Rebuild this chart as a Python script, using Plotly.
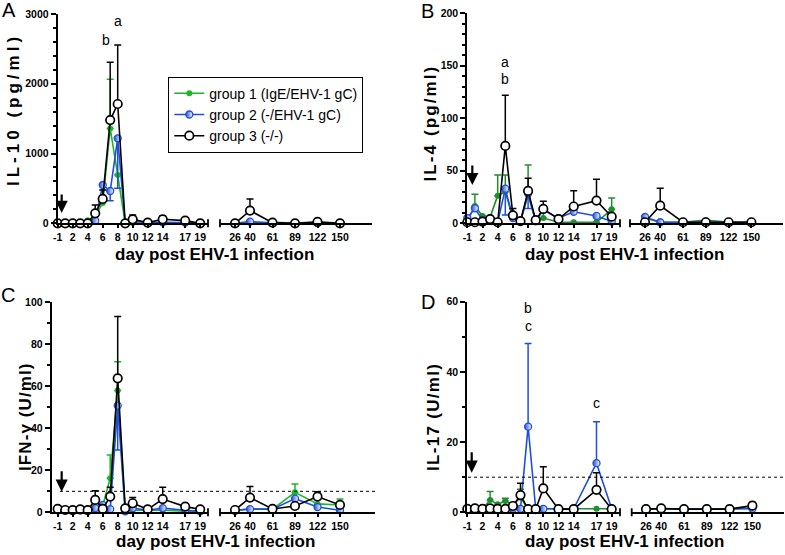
import plotly.graph_objects as go

W, H = 785, 555
FONT = "Liberation Sans, Arial, sans-serif"

# ---------------- axis categories ----------------
EARLY_DAYS = [-1, 1, 2, 3, 4, 5, 6, 7, 8, 9, 10, 12, 14, 17, 19]
LATE_DAYS = [26, 40, 61, 89, 122, 150]
EARLY_TICKS = [-1, 2, 4, 6, 8, 10, 12, 14, 17, 19]
LATE_TICKS = [26, 40, 61, 89, 122, 150]
LATE_SLOTS = [0, 2, 5, 8, 11, 14]          # slot of each late day on the broken axis

GROUP_NAMES = ["group 1 (IgE/EHV-1 gC)", "group 2 (-/EHV-1 gC)", "group 3 (-/-)"]

# ---------------- A: IL-10 (pg/ml) ----------------
IL10_G1_EARLY = [0, 0, 0, 0, 45, 100, 290, 1360, 692, 0, 5, 5, 5, 5, 0]
IL10_G1_EARLY_UP = [0, 0, 0, 0, 0, 0, 0, 703, 0, 0, 0, 0, 0, 0, 0]
IL10_G2_EARLY = [0, 0, 0, 0, 0, 38, 549, 463, 1218, 0, 30, 10, 15, 10, 0]
IL10_G2_EARLY_DOWN = [0, 0, 0, 0, 0, 0, 0, 138, 717, 0, 0, 0, 0, 0, 0]
IL10_G3_EARLY = [0, 0, 0, 0, 0, 143, 349, 1480, 1710, 0, 57, 10, 57, 38, 0]
IL10_G3_EARLY_UP = [0, 0, 0, 0, 0, 120, 129, 827, 845, 0, 63, 0, 48, 10, 0]
IL10_G1_LATE = [0, 10, 15, 5, 5, 0]
IL10_G2_LATE = [0, 24, 5, 0, 5, 0]
IL10_G3_LATE = [0, 182, 10, 0, 20, 0]
IL10_G3_LATE_UP = [0, 167, 0, 0, 0, 0]

# ---------------- B: IL-4 (pg/ml) ----------------
IL4_G1_EARLY = [2, 16.5, 7, 6, 26.3, 30, 5, 2, 27, 2, 5, 1, 1, 1, 13.3]
IL4_G1_EARLY_UP = [0, 11.1, 0, 0, 19.7, 16, 0, 0, 28.5, 0, 10, 0, 0, 0, 10.7]
IL4_G2_EARLY = [5, 14.3, 3, 3, 1, 33, 5, 2, 28.6, 2, 12.7, 5, 11, 7, 1.6]
IL4_G2_EARLY_DOWN = [0, 0, 0, 0, 0, 25, 0, 0, 14.6, 0, 0, 0, 0, 0, 0]
IL4_G3_EARLY = [1, 1, 1.6, 4, 1, 73.7, 7.6, 2, 30.8, 3, 13.7, 4, 16, 21.6, 6.3]
IL4_G3_EARLY_UP = [0, 0, 0, 0, 0, 48.3, 6.4, 0, 12.2, 0, 7.3, 0, 15, 20.4, 0]
IL4_G1_LATE = [5, 1, 1, 3, 1, 1]
IL4_G2_LATE = [6, 1, 1, 1, 1, 1]
IL4_G3_LATE = [1, 16.8, 1, 1, 1, 1]
IL4_G3_LATE_UP = [0, 16.5, 0, 0, 0, 0]

# ---------------- C: IFN-gamma (U/ml) ----------------
IFN_G1_EARLY = [1, 1, 1, 1, 1, 1.5, 3, 16.2, 58, 0.5, 1, 1, 1, 0.5, 0.5]
IFN_G1_EARLY_UP = [0, 0, 0, 0, 0, 0, 0, 11.1, 13.7, 0, 0, 0, 0, 0, 0]
IFN_G2_EARLY = [1, 1, 1, 1, 1, 2, 3.5, 1.5, 50.8, 0.5, 2, 1, 2, 1, 0.5]
IFN_G2_EARLY_DOWN = [0, 0, 0, 0, 0, 0, 0, 0, 21.1, 0, 0, 0, 0, 0, 0]
IFN_G3_EARLY = [1.6, 1.1, 1, 1.4, 1, 5.9, 1.6, 7.5, 63.8, 1.9, 4.3, 1.4, 6.3, 2.7, 1.4]
IFN_G3_EARLY_UP = [0, 0, 0, 0, 0, 4.4, 0, 4.4, 29.4, 0, 2.8, 0, 5.6, 0.8, 0]
IFN_G1_LATE = [1, 1.5, 1.5, 9.5, 4, 3.5]
IFN_G1_LATE_UP = [0, 0, 0, 4, 0, 2.8]
IFN_G2_LATE = [1, 1.5, 1.5, 6.5, 2.5, 1]
IFN_G3_LATE = [1.1, 7, 1.6, 3, 7.5, 3.5]
IFN_G3_LATE_UP = [0, 5.3, 0, 0, 2.3, 0]

# ---------------- D: IL-17 (U/ml) ----------------
IL17_G1_EARLY = [1, 1, 1, 3.5, 2.3, 3.2, 2, 4.2, 1, 1, 1, 1, 1, 1, 1]
IL17_G1_EARLY_UP = [0, 0, 0, 2.4, 0, 0.8, 0, 2.4, 0, 0, 0, 0, 0, 0, 0]
IL17_G2_EARLY = [1, 1, 1, 1, 1, 1, 1, 1, 24.4, 1, 1, 1, 1, 14, 1]
IL17_G2_EARLY_UP = [0, 0, 0, 0, 0, 0, 0, 0, 23.7, 0, 0, 0, 0, 11.8, 0]
IL17_G3_EARLY = [0.95, 1.1, 1, 1.1, 0.95, 1, 1.8, 4.9, 0.9, 0.9, 6.8, 0.9, 0.9, 6.4, 0.9]
IL17_G3_EARLY_UP = [0, 0, 0, 0, 0, 0, 0, 3.4, 0, 0, 6.2, 0, 0, 4.9, 0]
IL17_G1_LATE = [0.9, 1, 0.9, 0.9, 1, 1.2]
IL17_G2_LATE = [0.9, 1, 0.9, 0.9, 1, 1]
IL17_G3_LATE = [0.9, 1.1, 0.9, 0.9, 0.9, 1.9]
IL17_G3_LATE_UP = [0, 0, 0, 0, 0, 0.9]

DETECTION_LIMIT = 10   # dotted line for IFN-gamma and IL-17

# significance letters: (panel, early day, value level, text)
SIG_LETTERS = [
    (0, 8, 2900, "a"), (0, 6.5, 2627, "b"),
    (1, 5, 153.6, "a"), (1, 5, 137.4, "b"),
    (3, 8, 58.2, "b"), (3, 8, 53.1, "c"), (3, 17, 31.1, "c"),
]

GREEN_BRIGHT = "#1cb52a"
GREEN_DARK = "#1f8f2c"
BLUE = "#1f4fd8"
BLACK = "#000000"

PANELS = [
    dict(letter="A", ytitle="IL-10 (pg/ml)", spacing=4.0, ymax=3000, dtick=1000, minor=200,
         green=GREEN_BRIGHT,
         early=[(IL10_G1_EARLY, IL10_G1_EARLY_UP, None), (IL10_G2_EARLY, None, IL10_G2_EARLY_DOWN),
                (IL10_G3_EARLY, IL10_G3_EARLY_UP, None)],
         late=[(IL10_G1_LATE, None, None), (IL10_G2_LATE, None, None), (IL10_G3_LATE, IL10_G3_LATE_UP, None)],
         geo=dict(top=14, bot=223.3, yx=57.7, lend=208, rstart=220, rend=372, org=57.7, sc=7.5, late0=235),
         letter_pos=(8.5, 10), ytitle_pos=(14, 110), xtitle_pos=(214, 255),
         arrow=(0.53, 148, 20), dotted=None),
    dict(letter="B", ytitle="IL-4 (pg/ml)", spacing=2.1, ymax=200, dtick=50, minor=10,
         green=GREEN_DARK,
         early=[(IL4_G1_EARLY, IL4_G1_EARLY_UP, None), (IL4_G2_EARLY, None, IL4_G2_EARLY_DOWN),
                (IL4_G3_EARLY, IL4_G3_EARLY_UP, None)],
         late=[(IL4_G1_LATE, None, None), (IL4_G2_LATE, None, None), (IL4_G3_LATE, IL4_G3_LATE_UP, None)],
         geo=dict(top=13.3, bot=223.3, yx=467.3, lend=620, rstart=630, rend=783, org=467.3, sc=7.6, late0=645),
         letter_pos=(427.5, 11), ytitle_pos=(430, 123.5), xtitle_pos=(624, 255),
         arrow=(0.66, 36.5, 21), dotted=None),
    dict(letter="C", ytitle="IFN-γ (U/ml)", spacing=1.1, ymax=100, dtick=20, minor=10,
         green=GREEN_BRIGHT,
         early=[(IFN_G1_EARLY, IFN_G1_EARLY_UP, None), (IFN_G2_EARLY, None, IFN_G2_EARLY_DOWN),
                (IFN_G3_EARLY, IFN_G3_EARLY_UP, None)],
         late=[(IFN_G1_LATE, IFN_G1_LATE_UP, None), (IFN_G2_LATE, None, None), (IFN_G3_LATE, IFN_G3_LATE_UP, None)],
         geo=dict(top=302.3, bot=512.3, yx=51.7, lend=208, rstart=220, rend=375, org=57.7, sc=7.5, late0=235),
         letter_pos=(7.5, 295), ytitle_pos=(25, 417), xtitle_pos=(215, 541),
         arrow=(0.53, 9.8, 22), dotted=(60, 375)),
    dict(letter="D", ytitle="IL-17 (U/ml)", spacing=1.3, ymax=60, dtick=20, minor=10,
         green=GREEN_DARK,
         early=[(IL17_G1_EARLY, IL17_G1_EARLY_UP, None), (IL17_G2_EARLY, IL17_G2_EARLY_UP, None),
                (IL17_G3_EARLY, IL17_G3_EARLY_UP, None)],
         late=[(IL17_G1_LATE, None, None), (IL17_G2_LATE, None, None), (IL17_G3_LATE, IL17_G3_LATE_UP, None)],
         geo=dict(top=301.7, bot=512.3, yx=467.3, lend=620, rstart=631.7, rend=784, org=467.3, sc=7.6, late0=646),
         letter_pos=(427.5, 301.5), ytitle_pos=(433, 417), xtitle_pos=(624, 541),
         arrow=(0.58, 11.3, 22), dotted=(468, 785)),
]


def early_slot(day):
    return max(day, 0)


def axid(kind, n):
    return kind if n == 1 else f"{kind}{n}"


def axkey(kind, n):
    return f"{kind}axis" if n == 1 else f"{kind}axis{n}"


def err_dict(up, down, color):
    if up is None and down is None:
        return None
    n = len(up if up is not None else down)
    up = up if up is not None else [0] * n
    down = down if down is not None else [0] * n
    arr, arrm = [], []
    for u, d in zip(up, down):
        if u == 0 and d == 0:
            arr.append(None)
            arrm.append(None)
        else:
            arr.append(u)
            arrm.append(d)
    return dict(type="data", symmetric=False, array=arr, arrayminus=arrm,
                color=color, thickness=1.5, width=3.5)


def marker_for(g, green):
    if g == 0:
        return dict(symbol="circle", size=6, color=green, line=dict(width=0))
    if g == 1:
        return dict(symbol="circle", size=7, color=BLUE,
                    gradient=dict(type="horizontal", color="white"),
                    line=dict(width=1.3, color=BLUE))
    return dict(symbol="circle", size=8.5, color="white", line=dict(width=1.7, color=BLACK))


def bold_ticks(ymax, dtick):
    vals = []
    v = 0
    while v <= ymax + 1e-9:
        vals.append(v)
        v += dtick
    return vals, [f"<b>{int(x)}</b>" for x in vals]


fig = go.Figure()
layout = dict(width=W, height=H, margin=dict(l=0, r=0, t=0, b=0), autosize=False,
              paper_bgcolor="white", plot_bgcolor="white",
              font=dict(family=FONT, color="black"), shapes=[], annotations=[])

tickfont = dict(family=FONT, size=10.5, color="black")

for k, P in enumerate(PANELS):
    g = P["geo"]
    xl, xr, yn = 2 * k + 1, 2 * k + 2, k + 1
    colors = [P["green"], BLUE, BLACK]

    yvals, ytext = bold_ticks(P["ymax"], P["dtick"])
    ydom = [1 - g["bot"] / H, 1 - g["top"] / H]
    layout[axkey("y", yn)] = dict(
        domain=ydom, range=[0, P["ymax"]], anchor=axid("x", xl),
        tickmode="array", tickvals=yvals, ticktext=ytext, ticks="outside", ticklen=5, tickwidth=1.8,
        tickcolor="black", showline=True, linewidth=2, linecolor="black",
        showgrid=False, zeroline=False, tickfont=tickfont, automargin=False, fixedrange=True,
        minor=dict(dtick=P["minor"], tick0=0, ticks="outside", ticklen=3, tickwidth=1.5, tickcolor="black",
                   showgrid=False),
    )
    layout[axkey("x", xl)] = dict(
        domain=[g["yx"] / W, g["lend"] / W],
        range=[(g["yx"] - g["org"]) / g["sc"], (g["lend"] - g["org"]) / g["sc"]],
        anchor=axid("y", yn), tickmode="array",
        tickvals=[early_slot(d) for d in EARLY_TICKS], ticktext=[f"<b>{d}</b>" for d in EARLY_TICKS],
        ticks="outside", ticklen=3, tickwidth=1.5, tickcolor="black",
        showline=True, linewidth=2, linecolor="black", showgrid=False, zeroline=False,
        tickfont=tickfont, automargin=False, fixedrange=True,
    )
    layout[axkey("x", xr)] = dict(
        domain=[g["rstart"] / W, g["rend"] / W],
        range=[(g["rstart"] - g["late0"]) / g["sc"], (g["rend"] - g["late0"]) / g["sc"]],
        anchor=axid("y", yn), tickmode="array",
        tickvals=LATE_SLOTS, ticktext=[f"<b>{d}</b>" for d in LATE_TICKS],
        ticks="outside", ticklen=3, tickwidth=1.5, tickcolor="black",
        showline=True, linewidth=2, linecolor="black", showgrid=False, zeroline=False,
        tickfont=tickfont, automargin=False, fixedrange=True,
    )

    # break marks at the segment ends
    for ref, xpos in ((axid("x", xl) + " domain", 1), (axid("x", xr) + " domain", 0)):
        layout["shapes"].append(dict(type="line", xref=ref, x0=xpos, x1=xpos, yref="paper",
                                     y0=1 - (g["bot"] + 4) / H, y1=1 - (g["bot"] - 4) / H,
                                     line=dict(color="black", width=1.8)))

    for gi in range(3):
        vals, up, down = P["early"][gi]
        fig.add_trace(go.Scatter(
            x=[early_slot(d) for d in EARLY_DAYS], y=vals, mode="lines+markers",
            name=GROUP_NAMES[gi], legendgroup=GROUP_NAMES[gi], showlegend=(k == 0),
            xaxis=axid("x", xl), yaxis=axid("y", yn), cliponaxis=False,
            line=dict(color=colors[gi], width=1.6), marker=marker_for(gi, colors[gi]),
            error_y=err_dict(up, down, colors[gi]),
        ))
        lvals, lup, ldown = P["late"][gi]
        fig.add_trace(go.Scatter(
            x=LATE_SLOTS, y=lvals, mode="lines+markers",
            name=GROUP_NAMES[gi], legendgroup=GROUP_NAMES[gi], showlegend=False,
            xaxis=axid("x", xr), yaxis=axid("y", yn), cliponaxis=False,
            line=dict(color=colors[gi], width=1.6), marker=marker_for(gi, colors[gi]),
            error_y=err_dict(lup, ldown, colors[gi]),
        ))

    if P["dotted"]:
        layout["shapes"].append(dict(type="line", xref="paper", yref=axid("y", yn),
                                     x0=P["dotted"][0] / W, x1=P["dotted"][1] / W,
                                     y0=DETECTION_LIMIT, y1=DETECTION_LIMIT,
                                     line=dict(color="black", width=1, dash="dot")))

    # infection arrow
    ax_x, tip, length = P["arrow"]
    layout["annotations"].append(dict(xref=axid("x", xl), yref=axid("y", yn), x=ax_x, y=tip,
                                      text="", showarrow=True, ax=0, ay=-length,
                                      arrowhead=2, arrowsize=1.1, arrowwidth=2.2, arrowcolor="black"))

    # panel letter
    lx, ly = P["letter_pos"]
    layout["annotations"].append(dict(xref="paper", yref="paper", x=lx / W, y=1 - ly / H,
                                      text=P["letter"], showarrow=False, xanchor="center", yanchor="middle",
                                      font=dict(family=FONT, size=20, color="black")))
    # y title
    tx, ty = P["ytitle_pos"]
    layout["annotations"].append(dict(
        xref="paper", yref="paper", x=tx / W, y=1 - ty / H, textangle=-90, showarrow=False,
        xanchor="center", yanchor="middle",
        text=f'<span style="letter-spacing:{P["spacing"]}px">{P["ytitle"]}</span>',
        font=dict(family=FONT, size=17, color="black", weight="bold")))
    # x title
    tx, ty = P["xtitle_pos"]
    layout["annotations"].append(dict(
        xref="paper", yref="paper", x=tx / W, y=1 - ty / H, showarrow=False,
        xanchor="center", yanchor="middle", text="<b>day post EHV-1 infection</b>",
        font=dict(family=FONT, size=17, color="black")))

for (pk, day, level, txt) in SIG_LETTERS:
    layout["annotations"].append(dict(
        xref=axid("x", 2 * pk + 1), yref=axid("y", pk + 1), x=early_slot(day), y=level,
        text=txt, showarrow=False, xanchor="center", yanchor="middle",
        font=dict(family=FONT, size=14, color="black")))

layout["legend"] = dict(x=168.3 / W, y=1 - 76.7 / H, xanchor="left", yanchor="top",
                        bordercolor="black", borderwidth=1, bgcolor="white",
                        font=dict(family=FONT, size=14, color="black"),
                        itemwidth=30, tracegroupgap=0)
layout["showlegend"] = True

fig.update_layout(**layout)
fig.write_html("out.html", config={"displayModeBar": False},
               post_script="document.body.style.margin='0';document.body.style.overflow='hidden';")
